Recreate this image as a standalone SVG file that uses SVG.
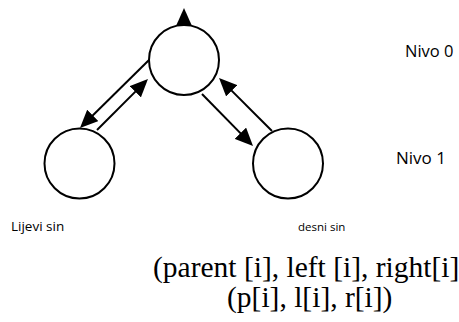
<svg xmlns="http://www.w3.org/2000/svg" width="459" height="322" viewBox="0 0 459 322">
<style>
.node{fill:#fff;stroke:#000;stroke-width:2}
.edge{stroke:#000;stroke-width:2;fill:none;marker-end:url(#ah)}
.lbl{font-family:"Open Sans","Noto Sans",sans-serif;fill:#000}
.tm{font-family:"Liberation Serif","Times New Roman",serif;font-size:29.5px;fill:#000}
</style>
<defs>
<marker id="ah" markerUnits="userSpaceOnUse" markerWidth="18" markerHeight="16" refX="8" refY="8" orient="auto">
<path d="M0,0 L18,8 L0,16 z" fill="#000"/>
</marker>
</defs>
<g id="edges">
<line class="edge" x1="184" y1="25" x2="184" y2="18"/>
<line class="edge" x1="149" y1="60" x2="87.1" y2="121"/>
<line class="edge" x1="97" y1="130" x2="140.9" y2="86.1"/>
<line class="edge" x1="202" y1="94" x2="246" y2="138.9"/>
<line class="edge" x1="272" y1="131" x2="226.1" y2="85.1"/>
</g>
<g id="root"><circle class="node" cx="184" cy="60" r="35"/></g>
<g id="left"><circle class="node" cx="79.5" cy="163.5" r="35"/></g>
<g id="right"><circle class="node" cx="288" cy="163.5" r="35"/></g>
<g id="labels">
<text class="lbl" x="405" y="57" font-size="16.5">Nivo 0</text>
<text class="lbl" x="396" y="164" font-size="17">Nivo 1</text>
<text class="lbl" x="11" y="231" font-size="13.5">Lijevi sin</text>
<text class="lbl" x="298" y="231" font-size="11.5">desni sin</text>
<text class="tm" x="153" y="277">(parent [i], left [i], right[i]</text>
<text class="tm" x="227" y="307">(p[i], l[i], r[i])</text>
</g>
</svg>
